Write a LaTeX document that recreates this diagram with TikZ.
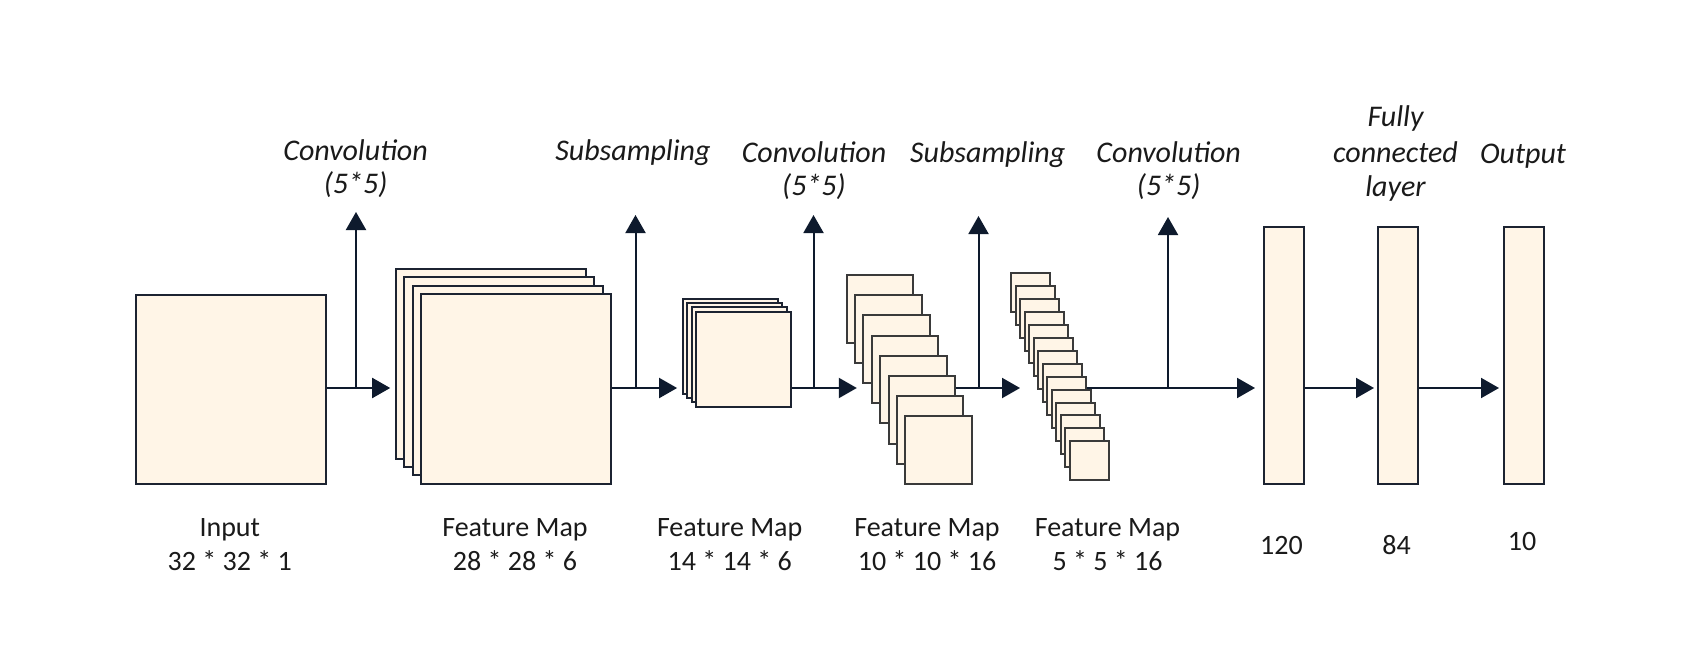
\documentclass[tikz,border=0pt]{standalone}
\usepackage{fontspec}
\setmainfont{Carlito}
\usetikzlibrary{arrows.meta}
\definecolor{cream}{HTML}{FFF5E7}
\definecolor{edge}{HTML}{1C2331}
\definecolor{edgegray}{HTML}{3A3A3A}
\definecolor{ink}{HTML}{0E1A2D}
\definecolor{txt}{HTML}{1A1A1A}
\begin{document}
\begin{tikzpicture}[x=1pt,y=-1pt,
  layerbox/.style={draw=edge, fill=cream, line width=2pt, inner sep=0pt, anchor=north west},
  graybox/.style={layerbox, draw=edgegray},
  conn/.style={draw=ink, line width=2pt, -{Triangle[length=18pt,width=20pt]}},
  lab/.style={font=\fontsize{28}{33}\selectfont, text=txt, anchor=base, inner sep=0pt},
  ilab/.style={lab, font=\fontsize{30}{33}\selectfont\itshape},
]
\useasboundingbox[fill=white] (0,0) rectangle (1700,653);

% input
\node[layerbox, minimum width=190pt, minimum height=189pt] (inp) at (134.5,293.5) {};

% feature map 1 (4 maps)
\foreach \i/\n in {0/a,1/b,2/c,3/d}
  \node[layerbox, minimum width=190pt, minimum height=189.5pt] (f1\n) at ({394.7+8.43*\i},{268+8.43*\i}) {};

% feature map 2 (4 maps)
\foreach \i/\n in {0/a,1/b,2/c,3/d}
  \node[layerbox, minimum width=95pt, minimum height=95pt] (f2\n) at ({682.1+4.3*\i},{297.6+4.3*\i}) {};

% feature map 3 (8 maps)
\foreach \i/\n in {0/a,1/b,2/c,3/d,4/e,5/f,6/g,7/h}
  \node[graybox, minimum width=66.5pt, minimum height=67.5pt] (f3\n) at ({845.7+8.37*\i},{274+20.2*\i}) {};

% feature map 4 (14 maps)
\foreach \i/\n in {0/a,1/b,2/c,3/d,4/e,5/f,6/g,7/h,8/i,9/j,10/k,11/l,12/m,13/n}
  \node[graybox, minimum width=39pt, minimum height=38.5pt] (f4\n) at ({1010.3+4.49*\i},{272.3+12.92*\i}) {};

% fully connected layers
\node[layerbox, minimum width=40pt, minimum height=257pt] (fc1) at (1262.5,225.5) {};
\node[layerbox, minimum width=40pt, minimum height=257pt] (fc2) at (1376.5,225.5) {};
\node[layerbox, minimum width=40pt, minimum height=257pt] (fc3) at (1502.7,225.5) {};

% junctions and arrow ends
\coordinate (j1) at (356,388);
\coordinate (t1) at (356,212);
\coordinate (j2) at (635.5,388);
\coordinate (t2) at (635.5,215);
\coordinate (j3) at (813.5,388);
\coordinate (t3) at (813.5,215);
\coordinate (j4) at (978.5,388);
\coordinate (t4) at (978.5,216);
\coordinate (j5) at (1168,388);
\coordinate (t5) at (1168,217);

% connectors
\draw[conn, shorten >=4.5pt] (inp.east |- j1) -- (f1a.west |- j1);
\draw[conn] (j1) -- (t1);
\draw[conn, shorten >=5pt] (f1d.east |- j2) -- (f2a.west |- j2);
\draw[conn] (j2) -- (t2);
\draw[conn, shorten >=14pt] (f2d.east |- j3) -- (f3d.west |- j3);
\draw[conn] (j3) -- (t3);
\draw[conn, shorten >=21.7pt] (f3f.east |- j4) -- (f4h.west |- j4);
\draw[conn] (j4) -- (t4);
\draw[conn, shorten >=7.5pt] (f4i.east |- j5) -- (fc1.west |- j5);
\draw[conn] (j5) -- (t5);
\draw[conn, shorten >=2.5pt] (fc1.east |- j5) -- (fc2.west |- j5);
\draw[conn, shorten >=3.7pt] (fc2.east |- j5) -- (fc3.west |- j5);

% top labels
\node[ilab] (c1a) at (355.6,160) {Convolution};
\node[ilab] (c1b) at (355.6,193) {(5*5)};
\node[ilab] (s1)  at (633,160) {Subsampling};
\node[ilab] (c2a) at (814,162) {Convolution};
\node[ilab] (c2b) at (814,195) {(5*5)};
\node[ilab] (s2)  at (987.7,162) {Subsampling};
\node[ilab] (c3a) at (1168.7,162) {Convolution};
\node[ilab] (c3b) at (1168.7,195) {(5*5)};
\node[ilab] (fca) at (1395.5,126) {Fully};
\node[ilab] (fcb) at (1395.5,162) {connected};
\node[ilab] (fcc) at (1395.5,196) {layer};
\node[ilab] (out) at (1523,163) {Output};

% bottom labels
\node[lab] (l1a) at (229.8,536) {Input};
\node[lab] (l1b) at (229.8,570) {32 * 32 * 1};
\node[lab] (l2a) at (515,536) {Feature Map};
\node[lab] (l2b) at (515,570) {28 * 28 * 6};
\node[lab] (l3a) at (729.7,536) {Feature Map};
\node[lab] (l3b) at (729.7,570) {14 * 14 * 6};
\node[lab] (l4a) at (927,536) {Feature Map};
\node[lab] (l4b) at (927,570) {10 * 10 * 16};
\node[lab] (l5a) at (1107.5,536) {Feature Map};
\node[lab] (l5b) at (1107.5,570) {5 * 5 * 16};
\node[lab] (n120) at (1281.5,554) {120};
\node[lab] (n84)  at (1396.5,554) {84};
\node[lab] (n10)  at (1522,550) {10};
\end{tikzpicture}
\end{document}
